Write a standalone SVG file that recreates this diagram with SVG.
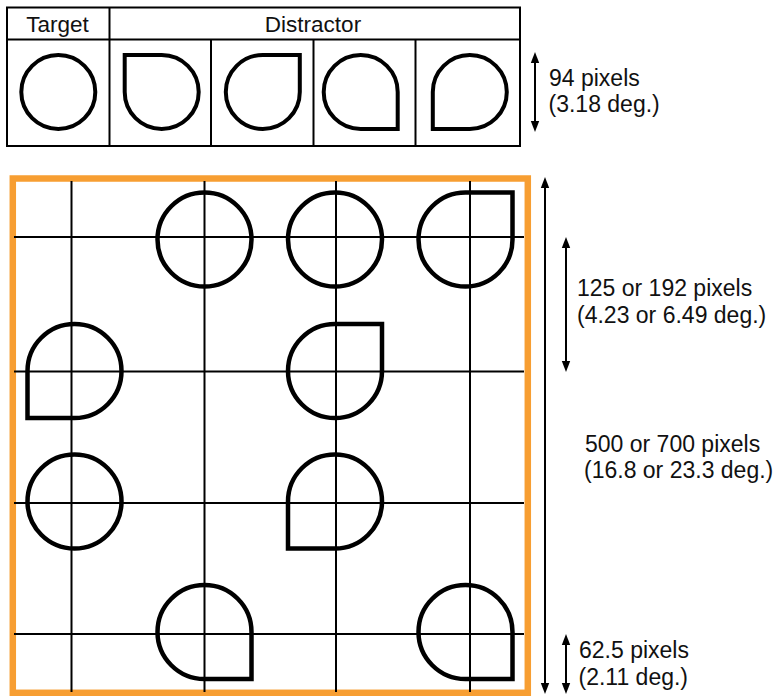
<svg xmlns="http://www.w3.org/2000/svg" width="776" height="696" viewBox="0 0 776 696">
  <style>
    .lbl { font-family: "Liberation Sans", Arial, sans-serif; font-size: 23px; fill: #111; }
    .hdr { font-family: "Liberation Sans", Arial, sans-serif; font-size: 22.5px; fill: #111; }
    .tbl { fill: none; stroke: #000; stroke-width: 2; }
    .grid { stroke: #000; stroke-width: 2; }
    .shpS { fill: none; stroke: #000; stroke-width: 4; stroke-linejoin: miter; }
    .shpB { fill: none; stroke: #000; stroke-width: 4.5; stroke-linejoin: miter; }
    .arr { stroke: #000; stroke-width: 2; fill: none; marker-start: url(#ah); marker-end: url(#ah); }
  </style>
  <defs>
    <marker id="ah" markerUnits="userSpaceOnUse" markerWidth="12" markerHeight="10" viewBox="0 0 12 10" refX="5" refY="5" orient="auto-start-reverse">
      <path d="M0,0.8 L11,5 L0,9.2 Z" fill="#000"/>
    </marker>
    <circle id="cS" r="37"/>
    <path id="qS" d="M-37,0 V-37 H0 A37,37 0 1 1 -37,0 Z"/>
    <circle id="cB" r="47"/>
    <path id="qB" d="M-47,0 V-47 H0 A47,47 0 1 1 -47,0 Z"/>
  </defs>
  <rect width="776" height="696" fill="#fff"/>

  <!-- Top table -->
  <g id="table">
    <rect class="tbl" x="7" y="7.5" width="513" height="138.5"/>
    <line class="tbl" x1="7" y1="39.5" x2="520" y2="39.5"/>
    <line class="tbl" x1="109.5" y1="7.5" x2="109.5" y2="146"/>
    <line class="tbl" x1="211" y1="39.5" x2="211" y2="146"/>
    <line class="tbl" x1="313.5" y1="39.5" x2="313.5" y2="146"/>
    <line class="tbl" x1="415.5" y1="39.5" x2="415.5" y2="146"/>
    <text class="hdr" x="57.5" y="31.5" text-anchor="middle">Target</text>
    <text class="hdr" x="313" y="31.5" text-anchor="middle">Distractor</text>
  </g>
  <g id="t-target"><use href="#cS" class="shpS" transform="translate(58.3,92)"/></g>
  <g id="t-d1"><use href="#qS" class="shpS" transform="translate(161.7,92)"/></g>
  <g id="t-d2"><use href="#qS" class="shpS" transform="translate(262.8,92) rotate(90)"/></g>
  <g id="t-d3"><use href="#qS" class="shpS" transform="translate(360.7,92) rotate(180)"/></g>
  <g id="t-d4"><use href="#qS" class="shpS" transform="translate(469.8,92) rotate(270)"/></g>

  <!-- Display frame and grid -->
  <g id="frame">
    <rect x="12.8" y="178.5" width="515" height="514.3" fill="none" stroke="#F79E32" stroke-width="6.5"/>
    <g class="grid">
      <line x1="71.5" y1="181" x2="71.5" y2="692"/>
      <line x1="204.5" y1="181" x2="204.5" y2="692"/>
      <line x1="336" y1="181" x2="336" y2="692"/>
      <line x1="470" y1="181" x2="470" y2="692"/>
      <line x1="14" y1="237" x2="524" y2="237"/>
      <line x1="14" y1="371.5" x2="524" y2="371.5"/>
      <line x1="14" y1="503" x2="524" y2="503"/>
      <line x1="14" y1="634" x2="524" y2="634"/>
    </g>
  </g>

  <g id="g-r1c2"><use href="#cB" class="shpB" transform="translate(204.5,239.5)"/></g>
  <g id="g-r1c3"><use href="#cB" class="shpB" transform="translate(335,239.5)"/></g>
  <g id="g-r1c4"><use href="#qB" class="shpB" transform="translate(465.5,239.5) rotate(90)"/></g>
  <g id="g-r2c1"><use href="#qB" class="shpB" transform="translate(74.5,371) rotate(270)"/></g>
  <g id="g-r2c3"><use href="#qB" class="shpB" transform="translate(335,371) rotate(90)"/></g>
  <g id="g-r3c1"><use href="#cB" class="shpB" transform="translate(74.5,501.5)"/></g>
  <g id="g-r3c3"><use href="#qB" class="shpB" transform="translate(335,501.5) rotate(270)"/></g>
  <g id="g-r4c2"><use href="#qB" class="shpB" transform="translate(204.5,632) rotate(180)"/></g>
  <g id="g-r4c4"><use href="#qB" class="shpB" transform="translate(465.5,632) rotate(180)"/></g>

  <!-- Dimension arrows -->
  <g id="connectors">
    <line class="arr" x1="535" y1="58" x2="535" y2="126"/>
    <line class="arr" x1="545" y1="183" x2="545" y2="688"/>
    <line class="arr" x1="566" y1="243" x2="566" y2="366"/>
    <line class="arr" x1="566" y1="640" x2="566" y2="688"/>
  </g>

  <g id="labels">
    <text class="lbl" x="549" y="86">94 pixels</text>
    <text class="lbl" x="548.5" y="112">(3.18 deg.)</text>
    <text class="lbl" x="577" y="296">125 or 192 pixels</text>
    <text class="lbl" x="577" y="322.5">(4.23 or 6.49 deg.)</text>
    <text class="lbl" x="585" y="451.5">500 or 700 pixels</text>
    <text class="lbl" x="584" y="478">(16.8 or 23.3 deg.)</text>
    <text class="lbl" x="579" y="658">62.5 pixels</text>
    <text class="lbl" x="578.5" y="684.5">(2.11 deg.)</text>
  </g>
</svg>
